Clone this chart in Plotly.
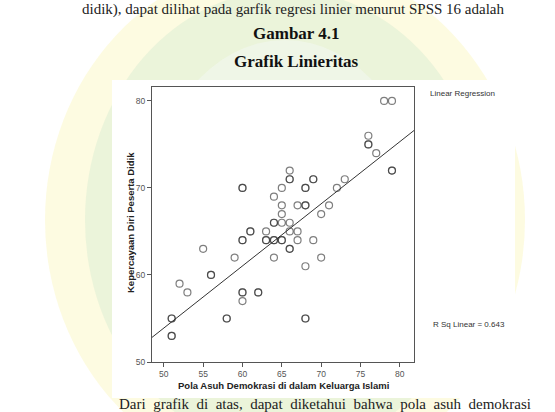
import numpy as np
import plotly.graph_objects as go

# Data (duplicates = darker/overlapping circles)
x_pola = [51, 51, 51, 51, 52, 53, 55, 56, 56, 58, 58, 59, 60, 60, 60, 60, 60, 60, 60,
          61, 61, 62, 62, 63, 63, 63, 64, 64, 64, 64, 64, 64, 65, 65, 65, 65, 65, 65,
          66, 66, 66, 66, 66, 66, 66, 67, 67, 67, 68, 68, 68, 68, 68, 68, 68, 69, 69,
          69, 70, 70, 71, 72, 73, 76, 76, 76, 77, 78, 79, 79, 79]
y_percaya = [53, 53, 55, 55, 59, 58, 63, 60, 60, 55, 55, 62, 57, 58, 58, 64, 64, 70, 70,
             65, 65, 58, 58, 64, 64, 65, 62, 64, 64, 66, 66, 69, 64, 64, 66, 67, 68, 70,
             63, 63, 65, 66, 71, 71, 72, 64, 65, 68, 55, 55, 61, 68, 68, 70, 70, 64, 71,
             71, 62, 67, 68, 70, 71, 75, 75, 76, 74, 80, 72, 72, 80]
x_ticks = [50, 55, 60, 65, 70, 75, 80]
y_ticks = [50, 60, 70, 80]
# fitted line
reg_intercept = 18.2
reg_slope = 0.714
r_sq_label = "R Sq Linear = 0.643"

x_line = np.array([48.5, 81.8])
y_line = reg_intercept + reg_slope * x_line

W, H = 555, 412
L, R, T, B = 152, 414, 87, 362


def px(xp):
    return (xp - L) / (R - L)


def py(yp):
    return 1 - (yp - T) / (B - T)


fig = go.Figure()
fig.add_trace(go.Scatter(x=x_line, y=y_line, mode="lines",
                         line=dict(color="#333333", width=1), hoverinfo="skip"))
fig.add_trace(go.Scatter(x=x_pola, y=y_percaya, mode="markers",
                         marker=dict(symbol="circle-open", size=7,
                                     color="rgba(40,40,40,0.6)",
                                     line=dict(width=1.2))))

shapes = [
    # faded watermark behind the chart
    dict(type="circle", xref="paper", yref="paper", layer="below",
         x0=px(45), x1=px(525), y0=py(480), y1=py(-40),
         fillcolor="rgba(251,248,205,0.6)", line=dict(width=0)),
    dict(type="circle", xref="paper", yref="paper", layer="below",
         x0=px(85), x1=px(485), y0=py(450), y1=py(-10),
         fillcolor="rgba(226,240,214,0.65)", line=dict(width=0)),
    dict(type="circle", xref="paper", yref="paper", layer="below",
         x0=px(150), x1=px(420), y0=py(380), y1=py(40),
         fillcolor="rgba(240,246,234,0.8)", line=dict(width=0)),
    # white SPSS chart box
    dict(type="rect", xref="paper", yref="paper", layer="below",
         x0=px(112), x1=px(515), y0=py(398), y1=py(80),
         fillcolor="white", line=dict(width=0)),
]


def ann(text, x, y, size, family, color="#222", xanchor="center", angle=0):
    return dict(text=text, x=px(x), y=py(y), xref="paper", yref="paper",
                showarrow=False, xanchor=xanchor, yanchor="middle", textangle=angle,
                font=dict(family=family, size=size, color=color))


annotations = [
    ann("didik), dapat dilihat pada garfik regresi linier menurut SPSS 16 adalah",
        80, 10, 15, "Liberation Serif", xanchor="left"),
    ann("<b>Gambar 4.1</b>", 296, 33, 17, "Liberation Serif", "#111"),
    ann("<b>Grafik Linieritas</b>", 296, 61, 17, "Liberation Serif", "#111"),
    ann("Linear Regression", 428, 93, 8, "Liberation Sans", "#333", xanchor="left"),
    ann(r_sq_label, 431, 324, 8, "Liberation Sans", "#333", xanchor="left"),
    ann("<b>Pola Asuh Demokrasi di dalam Keluarga Islami</b>", 283, 385, 9.5,
        "Liberation Sans"),
    ann("<b>Kepercayaan Diri Peserta Didik</b>", 130, 223, 9.5, "Liberation Sans",
        angle=-90),
    ann("Dari  grafik  di  atas,  dapat  diketahui  bahwa  pola  asuh  demokrasi",
        117, 404, 15, "Liberation Serif", xanchor="left"),
]

fig.update_layout(
    width=W, height=H, autosize=False,
    margin=dict(l=L, r=W - R, t=T, b=H - B),
    paper_bgcolor="white", plot_bgcolor="white",
    showlegend=False,
    shapes=shapes, annotations=annotations,
    xaxis=dict(range=[48.5, 81.8], tickvals=x_ticks, showgrid=False, zeroline=False,
               ticks="outside", ticklen=4, tickcolor="#555", showline=True,
               linecolor="#555", linewidth=1, mirror=True,
               tickfont=dict(family="Liberation Sans", size=8.5, color="#555")),
    yaxis=dict(range=[50, 81.6], tickvals=y_ticks, showgrid=False, zeroline=False,
               ticks="outside", ticklen=4, tickcolor="#555", showline=True,
               linecolor="#555", linewidth=1, mirror=True,
               tickfont=dict(family="Liberation Sans", size=8.5, color="#555")),
)

fig.write_html("out.html")
